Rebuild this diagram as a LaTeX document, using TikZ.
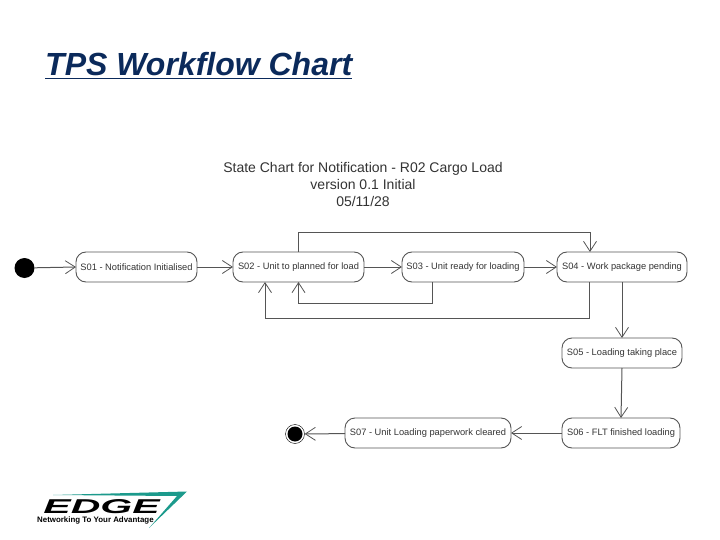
\documentclass[tikz,border=0pt]{standalone}
\usepackage{fontspec}
\setmainfont{Liberation Sans}
\usetikzlibrary{arrows.meta,calc,positioning}
\definecolor{titleblue}{HTML}{0B2A5B}
\definecolor{edgeteal}{HTML}{1C9A8C}
\definecolor{linegrey}{HTML}{555555}
\definecolor{textgrey}{HTML}{333333}

\begin{document}
\begin{tikzpicture}[x=1pt,y=-1pt]
\tikzstyle{state}=[draw=linegrey,line width=0.9pt,rounded corners=10pt,minimum height=30pt,inner sep=0pt,outer sep=0pt,font=\fontsize{9.3}{11}\selectfont,text=textgrey]
\tikzstyle{trans}=[draw=linegrey,line width=1pt,-{Straight Barb[length=10pt,width=13pt,line width=0.8pt]}]

\useasboundingbox (0,0) rectangle (720,540);

\node (title) [anchor=base west,inner sep=0pt,text=titleblue,font=\fontsize{32}{34}\selectfont\bfseries\itshape] at (45,75.5) {TPS Workflow Chart};
\draw [titleblue,line width=1.8pt] (title.base west) ++ (0,3) -- ($(title.base east)+(0,3)$);

\node (heading) [align=center,text=textgrey,inner sep=0pt,font=\fontsize{14}{17}\selectfont] at (363,184) {State Chart for Notification - R02 Cargo Load\\version 0.1 Initial\\05/11/28};

\node (start) [circle,fill=black,minimum size=20pt,inner sep=0pt] at (24.5,268) {};
\node (S01) [state,minimum width=121pt] at (136.5,267) {S01 - Notification Initialised};
\node (S02) [state,minimum width=131pt] at (298.5,267) {S02 - Unit to planned for load};
\node (S03) [state,minimum width=122pt] at (463,267) {S03 - Unit ready for loading};
\node (S04) [state,minimum width=130pt] at (622,267) {S04 - Work package pending};
\node (S05) [state,minimum width=120pt] at (622,353) {S05 - Loading taking place};
\node (S06) [state,minimum width=118pt] at (621,433) {S06 - FLT finished loading};
\node (S07) [state,minimum width=166pt] at (428,433) {S07 - Unit Loading paperwork cleared};
\node (stop) [circle,draw=black,minimum size=19pt,inner sep=0pt] at (295,434) {};
\node (stopdot) [circle,fill=black,minimum size=15pt,inner sep=0pt] at (stop.center) {};

\coordinate (topline) at (298.5,232.5);
\coordinate (inS04) at (590,252);
\coordinate (outS04) at (589,282);
\coordinate (outS03) at (432,282);
\coordinate (inS02a) at (265,282);
\coordinate (inS02b) at (298.5,282);

\draw [trans] (start) -- (S01.west);
\draw [trans] (S01) -- (S02);
\draw [trans] (S02) -- (S03);
\draw [trans] (S03) -- (S04);
\draw [trans] (S02.north) |- (topline) -| (inS04);
\draw [trans] (outS03) -- ++(0,21) -| (inS02b);
\draw [trans] (outS04) -- ++(0,36) -| (inS02a);
\draw [trans] (S04.south) -- (S05.north);
\draw [trans] (S05.south) -- (S06.north);
\draw [trans] (S06) -- (S07);
\draw [trans] (S07) -- (stop);

% logo
\fill [edgeteal] (53,495) -- (187,491.5) -- (149,528) -- (177,496) -- cycle;
\node (edge) [anchor=base west,inner sep=0pt,font=\fontsize{20}{20}\selectfont\bfseries\itshape,xscale=2.05] at (43,513) {EDGE};
\node (slogan) [anchor=base west,inner sep=0pt,font=\fontsize{7.9}{8}\selectfont\bfseries] at (37,522.5) {Networking To Your Advantage};
\end{tikzpicture}
\end{document}
